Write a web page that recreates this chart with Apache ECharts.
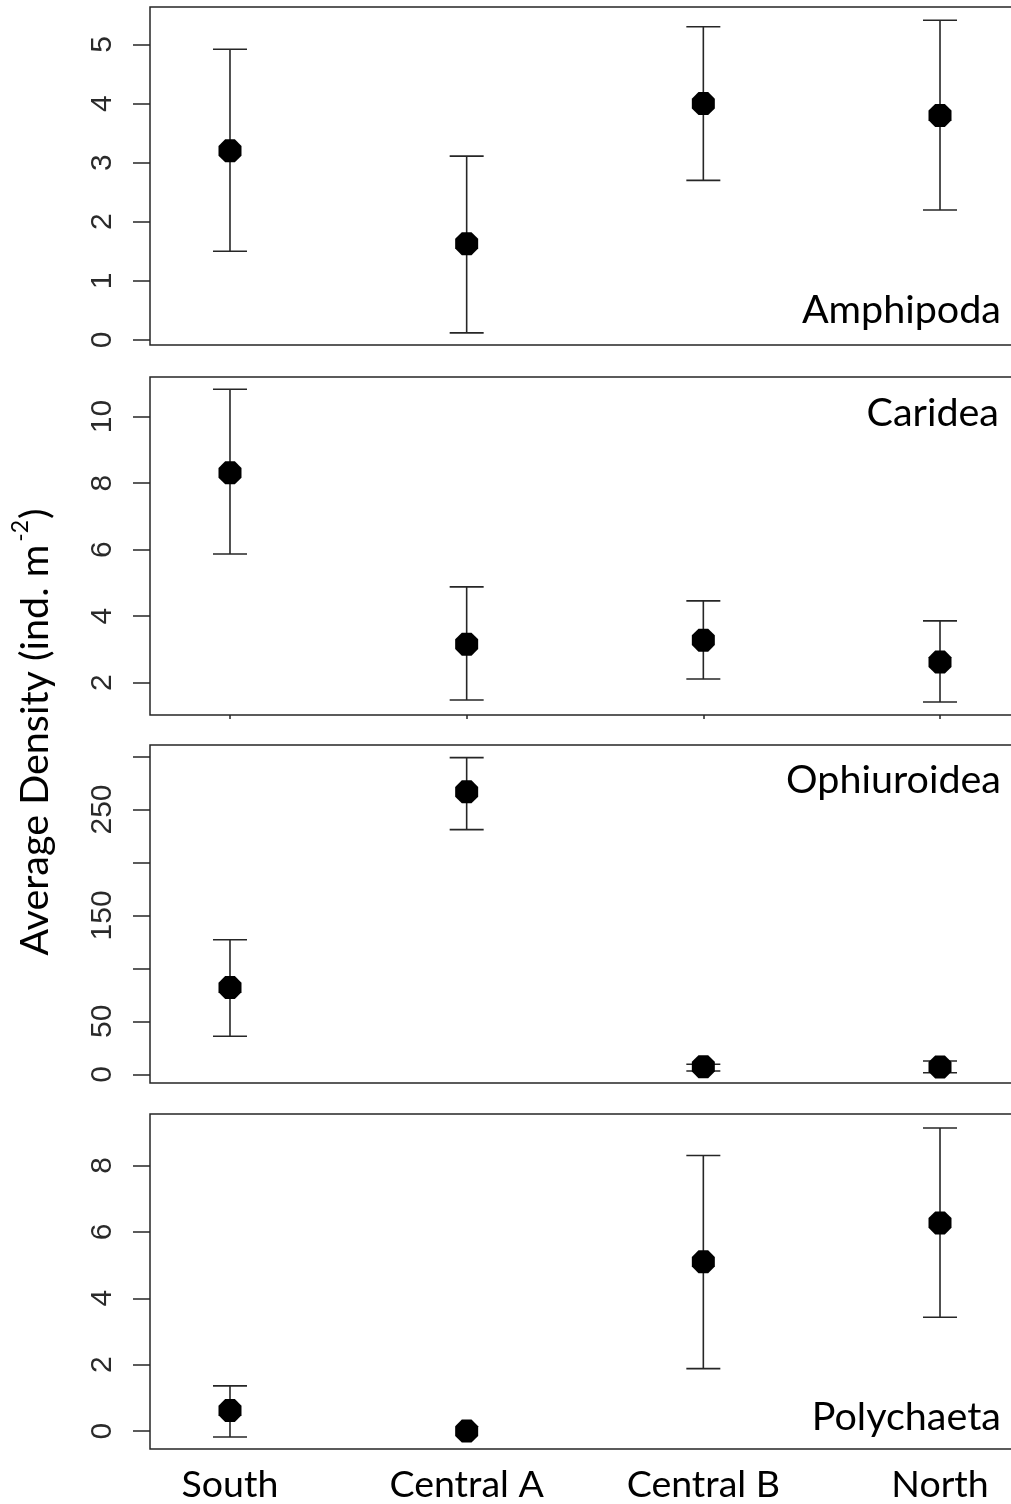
<!DOCTYPE html>
<html>
<head>
<meta charset="utf-8">
<script src="https://cdn.jsdelivr.net/npm/echarts@6/dist/echarts.min.js"></script>
<style>
html,body{margin:0;padding:0;background:#fff;overflow:hidden;width:1011px;height:1504px;}
#chart{width:1030px;height:1504px;}
</style>
</head>
<body>
<div id="chart"></div>
<script>
// ---- data ----
const categories = ['South', 'Central A', 'Central B', 'North'];
const xPos = [1, 2, 3, 4];

const panelNames = ['Amphipoda', 'Caridea', 'Ophiuroidea', 'Polychaeta'];

const amphMean = [3.2, 1.63, 4.0, 3.8];
const amphLow  = [1.5, 0.12, 2.7, 2.2];
const amphHigh = [4.92, 3.11, 5.3, 5.41];

const carMean = [8.31, 3.16, 3.28, 2.62];
const carLow  = [5.87, 1.48, 2.11, 1.42];
const carHigh = [10.82, 4.88, 4.46, 3.86];

const ophMean = [82, 266.7, 7.2, 7];
const ophLow  = [36, 231, 3.1, 1.5];
const ophHigh = [127, 299, 9.5, 12.6];

const polMean = [0.62, 0, 5.1, 6.27];
const polLow  = [-0.18, null, 1.88, 3.43];
const polHigh = [1.36, null, 8.3, 9.13];

const amphTicks = [0, 1, 2, 3, 4, 5];
const amphTickLabels = ['0', '1', '2', '3', '4', '5'];
const carTicks = [2, 4, 6, 8, 10];
const carTickLabels = ['2', '4', '6', '8', '10'];
const ophTicks = [0, 50, 100, 150, 200, 250, 300];
const ophTickLabels = ['0', '50', '', '150', '', '250', ''];
const polTicks = [0, 2, 4, 6, 8];
const polTickLabels = ['0', '2', '4', '6', '8'];

const yTitle = 'Average Density (ind. m';
const yTitleSup = '-2';

// ---- layout/style ----
const panels = [
  {mean: amphMean, low: amphLow, high: amphHigh, ticks: amphTicks, labels: amphTickLabels, min: -0.085, max: 5.634, top: 7},
  {mean: carMean, low: carLow, high: carHigh, ticks: carTicks, labels: carTickLabels, min: 1.03, max: 11.19, top: 377},
  {mean: ophMean, low: ophLow, high: ophHigh, ticks: ophTicks, labels: ophTickLabels, min: -8.2, max: 310.9, top: 745},
  {mean: polMean, low: polLow, high: polHigh, ticks: polTicks, labels: polTickLabels, min: -0.54, max: 9.55, top: 1114}
];
const GRID_H = 338;
const INK = '#262626';
const octagon = 'path://M29,0L71,0L100,29L100,71L71,100L29,100L0,71L0,29Z';

const grids = [], xAxes = [], yAxes = [], series = [];
panels.forEach((p, i) => {
  grids.push({left: 150, width: 870, top: p.top, height: GRID_H, show: true,
    borderColor: INK, borderWidth: 1.5, backgroundColor: 'transparent'});
  xAxes.push({
    type: 'value', gridIndex: i, min: 0.662, max: 4.338,
    splitLine: {show: false}, axisLine: {show: false},
    axisTick: {show: i === 1, customValues: xPos, length: 4, lineStyle: {color: INK, width: 1.5}},
    axisLabel: {show: i === 3, customValues: xPos, margin: 17,
      formatter: v => categories[Math.round(v) - 1] || '',
      fontFamily: 'Lato', fontSize: 37.5, color: '#000'}
  });
  const lbl = {};
  p.ticks.forEach((t, k) => lbl[t] = p.labels[k]);
  yAxes.push({
    type: 'value', gridIndex: i, min: p.min, max: p.max,
    splitLine: {show: false}, axisLine: {show: false},
    axisTick: {show: true, customValues: p.ticks, length: 17, lineStyle: {color: INK, width: 1.5}},
    axisLabel: {show: true, customValues: p.ticks, rotate: 90, margin: 32,
      formatter: v => lbl[v] !== undefined ? lbl[v] : '',
      fontFamily: 'Liberation Sans', fontSize: 30, color: '#2a2a2a'}
  });
  const barData = xPos.map((x, k) => [x, p.low[k], p.high[k]]).filter(d => d[1] !== null && d[2] !== null);
  series.push({
    type: 'custom', xAxisIndex: i, yAxisIndex: i, data: barData, silent: true,
    renderItem: (params, api) => {
      const x = api.value(0);
      const pl = api.coord([x, api.value(1)]);
      const ph = api.coord([x, api.value(2)]);
      const hw = 17;
      const st = {stroke: INK, lineWidth: 1.6};
      return {type: 'group', children: [
        {type: 'line', shape: {x1: pl[0], y1: pl[1], x2: ph[0], y2: ph[1]}, style: st},
        {type: 'line', shape: {x1: pl[0] - hw, y1: pl[1], x2: pl[0] + hw, y2: pl[1]}, style: st},
        {type: 'line', shape: {x1: ph[0] - hw, y1: ph[1], x2: ph[0] + hw, y2: ph[1]}, style: st}
      ]};
    },
    z: 2
  });
  series.push({
    type: 'scatter', xAxisIndex: i, yAxisIndex: i, silent: true,
    data: xPos.map((x, k) => [x, p.mean[k]]),
    symbol: octagon, symbolSize: 23, itemStyle: {color: '#000', opacity: 1}, z: 3
  });
});

const labelFont = '39.5px Lato';
const graphics = [
  {type: 'text', x: 1001, y: 310, style: {text: panelNames[0], font: labelFont, fill: '#000', align: 'right', verticalAlign: 'middle'}},
  {type: 'text', x: 999, y: 413, style: {text: panelNames[1], font: labelFont, fill: '#000', align: 'right', verticalAlign: 'middle'}},
  {type: 'text', x: 1001, y: 780, style: {text: panelNames[2], font: labelFont, fill: '#000', align: 'right', verticalAlign: 'middle'}},
  {type: 'text', x: 1001, y: 1417, style: {text: panelNames[3], font: labelFont, fill: '#000', align: 'right', verticalAlign: 'middle'}},
  {type: 'text', x: 32, y: 732, rotation: Math.PI / 2,
    style: {
      text: '{a|' + yTitle + '}{s|' + yTitleSup + '}{a|)}',
      align: 'center', verticalAlign: 'middle',
      rich: {
        a: {font: '39.5px Lato', fill: '#000', verticalAlign: 'bottom', lineHeight: 46},
        s: {font: '23px Lato', fill: '#000', verticalAlign: 'top', lineHeight: 46, padding: [0, 1, 0, 3]}
      }
    }}
];

const chart = echarts.init(document.getElementById('chart'), null, {renderer: 'canvas'});
chart.setOption({
  animation: false,
  backgroundColor: '#fff',
  grid: grids, xAxis: xAxes, yAxis: yAxes, series: series, graphic: graphics
});
</script>
</body>
</html>
